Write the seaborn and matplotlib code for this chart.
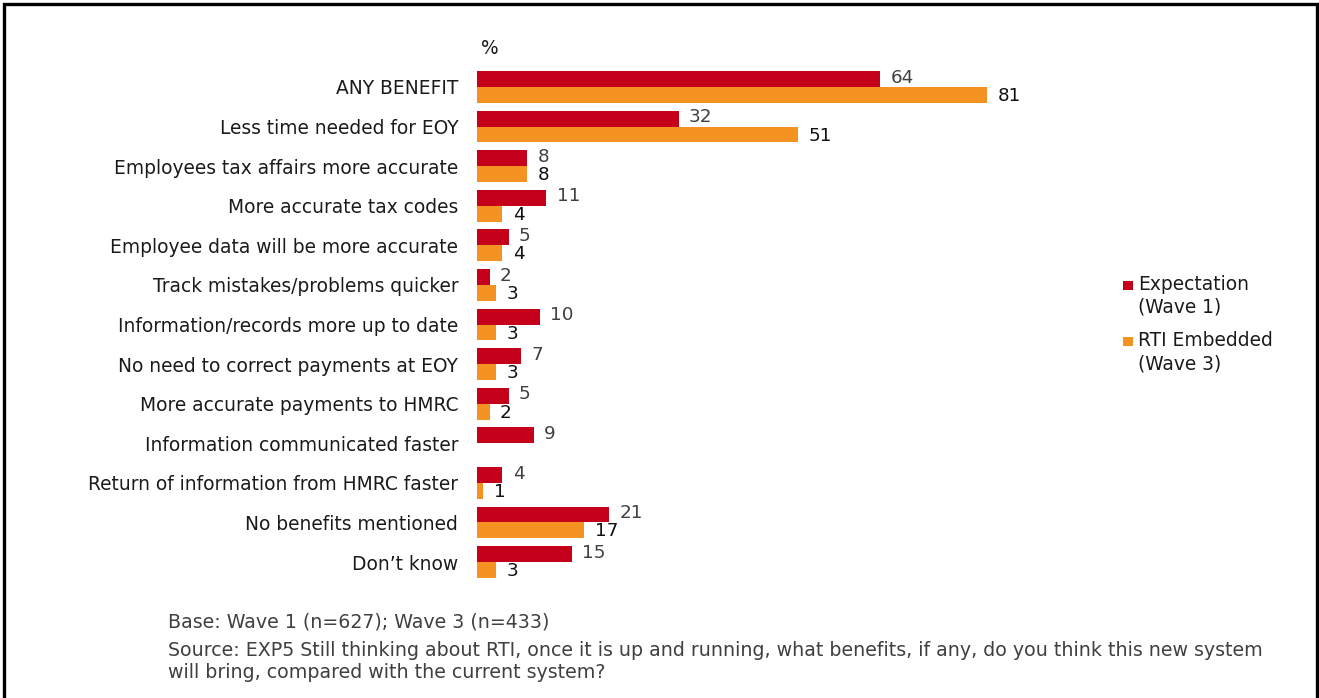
import matplotlib
matplotlib.use("Agg")
import matplotlib.pyplot as plt
from matplotlib.patches import Rectangle
import numpy as np
import pandas as pd
import seaborn as sns

categories = [
    "ANY BENEFIT",
    "Less time needed for EOY",
    "Employees tax affairs more accurate",
    "More accurate tax codes",
    "Employee data will be more accurate",
    "Track mistakes/problems quicker",
    "Information/records more up to date",
    "No need to correct payments at EOY",
    "More accurate payments to HMRC",
    "Information communicated faster",
    "Return of information from HMRC faster",
    "No benefits mentioned",
    "Don\u2019t know",
]
wave1 = [64, 32, 8, 11, 5, 2, 10, 7, 5, 9, 4, 21, 15]
wave3 = [81, 51, 8, 4, 4, 3, 3, 3, 2, np.nan, 1, 17, 3]
series = ["Expectation\n(Wave 1)", "RTI Embedded\n(Wave 3)"]
colors = ["#C5001A", "#F49322"]
label_colors = ["#404040", "#111111"]

df = pd.concat([
    pd.DataFrame({"category": categories, "value": wave1, "series": series[0]}),
    pd.DataFrame({"category": categories, "value": wave3, "series": series[1]}),
], ignore_index=True)

sns.set_theme(style="white")
plt.rcParams["font.family"] = ["DejaVu Sans"]

FS = 13.4
W, H = 1319, 698
fig = plt.figure(figsize=(W / 100, H / 100), dpi=100)
fig.patch.set_facecolor("white")

x0, x1 = 477, 477 + 6.30 * 100
y_top, y_bot = 67.2, 581.8
ax = fig.add_axes([x0 / W, 1 - y_bot / H, (x1 - x0) / W, (y_bot - y_top) / H])

sns.barplot(data=df, y="category", x="value", hue="series", order=categories,
            hue_order=series, palette=colors, width=0.8, orient="h",
            saturation=1, ax=ax, legend=False, edgecolor="none", errorbar=None)

ax.set_xlim(0, 100)
ax.set_ylim(len(categories) - 0.5, -0.5)
ax.set_xlabel("")
ax.set_ylabel("")
ax.set_xticks([])
for s in ax.spines.values():
    s.set_visible(False)
ax.tick_params(axis="y", length=0, pad=13.5, labelsize=FS, labelcolor="#1a1a1a")

# Value labels: first series nudged up, second nudged down so paired numbers stay apart
for cont, lc, dy in zip(ax.containers, label_colors, (1.0, -0.8)):
    labels = ["" if np.isnan(v) else f"{v:.0f}" for v in cont.datavalues]
    anns = ax.bar_label(cont, labels=labels, padding=7.5, fontsize=13.2, color=lc)
    for a in anns:
        a.xyann = (a.xyann[0], a.xyann[1] + dy)

# Legend: colour square beside the first line of each two-line entry
legend_rows = [(285, 307), (341, 364)]
for name, col, (ya, yb) in zip(series, colors, legend_rows):
    first, second = name.split("\n")
    fig.patches.append(Rectangle((1123 / W, 1 - (ya + 5) / H), 9.5 / W, 9.5 / H,
                                 transform=fig.transFigure, facecolor=col,
                                 edgecolor="none"))
    fig.text(1138 / W, 1 - ya / H, first, fontsize=FS, color="#1a1a1a",
             va="center", ha="left")
    fig.text(1138 / W, 1 - yb / H, second, fontsize=FS, color="#1a1a1a",
             va="center", ha="left")

fig.text(481 / W, 1 - 49 / H, "%", fontsize=FS, color="#1a1a1a", va="center", ha="left")

foot = "#404040"
fig.text(168 / W, 1 - 622 / H, "Base: Wave 1 (n=627); Wave 3 (n=433)",
         fontsize=13.7, color=foot, va="center", ha="left")
fig.text(168 / W, 1 - 650 / H,
         "Source: EXP5 Still thinking about RTI, once it is up and running, what benefits, if any, do you think this new system",
         fontsize=13.7, color=foot, va="center", ha="left")
fig.text(168 / W, 1 - 672 / H, "will bring, compared with the current system?",
         fontsize=13.7, color=foot, va="center", ha="left")

fig.patches.append(Rectangle((4 / W, -0.05), 1313 / W, 1.05 - 4 / H,
                             transform=fig.transFigure, fill=False,
                             edgecolor="black", linewidth=2.4))

fig.savefig("out.png", dpi=100)
